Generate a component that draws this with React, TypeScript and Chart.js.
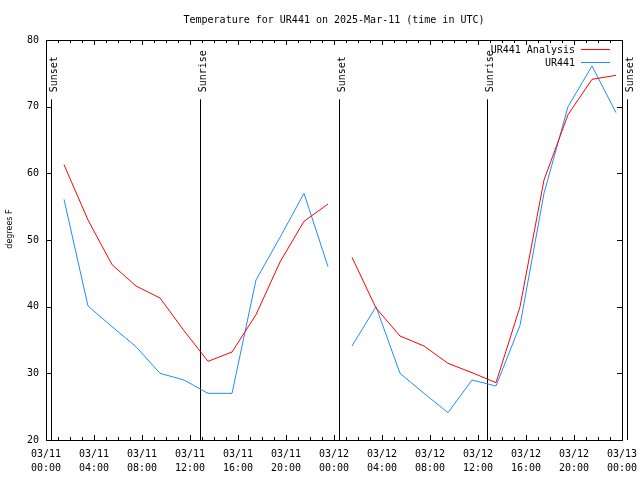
import React, { useEffect, useRef } from "react";
import { Chart, registerables } from "chart.js";
Chart.register(...registerables);

// hours since 03/11 00:00 UTC
const hours = [1.5, 3.5, 5.5, 7.5, 9.5, 11.5, 13.5, 15.5, 17.5, 19.5, 21.5, 23.5, 24.5, 25.5, 27.5, 29.5, 31.5, 33.5, 35.5, 37.5, 39.5, 41.5, 43.5, 45.5, 47.5];
const analysis = [61.3, 53.0, 46.3, 43.1, 41.3, 36.4, 31.8, 33.2, 38.8, 46.7, 52.8, 55.4, null, 47.4, 39.8, 35.6, 34.1, 31.5, 30.1, 28.6, 40.0, 59.0, 68.8, 74.1, 74.7];
const observed = [56.1, 40.1, 37.0, 34.0, 30.0, 29.0, 27.0, 27.0, 44.0, 50.4, 57.0, 46.0, null, 34.1, 40.0, 30.0, 27.0, 24.1, 29.0, 28.1, 37.2, 57.0, 70.0, 76.1, 69.1];

const sunEventHours = [0.44, 12.86, 24.44, 36.78, 48.44];
const sunEventLabels = ["Sunset", "Sunrise", "Sunset", "Sunrise", "Sunset"];

const xTickDates = ["03/11", "03/11", "03/11", "03/11", "03/11", "03/11", "03/12", "03/12", "03/12", "03/12", "03/12", "03/12", "03/13"];
const xTickTimes = ["00:00", "04:00", "08:00", "12:00", "16:00", "20:00", "00:00", "04:00", "08:00", "12:00", "16:00", "20:00", "00:00"];

const seriesNames = ["UR441 Analysis", "UR441"];
const seriesColors = ["#ff0000", "#1e8cff"];
const titleText = "Temperature for UR441 on 2025-Mar-11 (time in UTC)";
const yTitle = "degrees F";

const MONO = "'DejaVu Sans Mono', 'Liberation Mono', monospace";

const decorPlugin = {
  id: "decor",
  beforeDatasetsDraw(chart: any) {
    const ctx = chart.ctx;
    const xs = chart.scales.x;
    const area = chart.chartArea;
    ctx.save();
    ctx.strokeStyle = "#000";
    ctx.lineWidth = 1;
    ctx.fillStyle = "#000";
    ctx.font = "10px " + MONO;
    const lineTop = chart.scales.y.getPixelForValue(71.1);
    sunEventHours.forEach((h, i) => {
      const px = Math.round(xs.getPixelForValue(h)) + 0.5;
      ctx.beginPath();
      ctx.moveTo(px, lineTop);
      ctx.lineTo(px, area.bottom);
      ctx.stroke();
      ctx.save();
      ctx.translate(px + 5, lineTop - 7);
      ctx.rotate(-Math.PI / 2);
      ctx.textAlign = "left";
      ctx.textBaseline = "alphabetic";
      ctx.fillText(sunEventLabels[i], 0, 0);
      ctx.restore();
    });
    ctx.restore();
  },
  afterDraw(chart: any) {
    const ctx = chart.ctx;
    const xs = chart.scales.x;
    const ys = chart.scales.y;
    const a = chart.chartArea;
    ctx.save();
    ctx.strokeStyle = "#000";
    ctx.lineWidth = 1;
    // frame
    ctx.strokeRect(Math.round(a.left) + 0.5, Math.round(a.top) + 0.5, Math.round(a.right - a.left), Math.round(a.bottom - a.top));
    // x ticks
    for (let h = 0; h <= 48; h++) {
      const px = Math.round(xs.getPixelForValue(h)) + 0.5;
      const len = h % 4 === 0 ? 5 : 3;
      ctx.beginPath();
      ctx.moveTo(px, a.bottom);
      ctx.lineTo(px, a.bottom - len);
      ctx.moveTo(px, a.top);
      ctx.lineTo(px, a.top + len);
      ctx.stroke();
    }
    // y ticks
    for (let v = 20; v <= 80; v += 10) {
      const py = Math.round(ys.getPixelForValue(v)) + 0.5;
      ctx.beginPath();
      ctx.moveTo(a.left, py);
      ctx.lineTo(a.left + 5, py);
      ctx.moveTo(a.right, py);
      ctx.lineTo(a.right - 5, py);
      ctx.stroke();
    }
    // title
    ctx.fillStyle = "#000";
    ctx.font = "10px " + MONO;
    ctx.textAlign = "center";
    ctx.textBaseline = "middle";
    ctx.fillText(titleText, (a.left + a.right) / 2, 20);
    // legend
    ctx.textAlign = "right";
    seriesNames.forEach((name, i) => {
      const y = 50 + i * 13;
      ctx.fillStyle = "#000";
      ctx.fillText(name, 575, y + 0.5);
      ctx.strokeStyle = seriesColors[i];
      ctx.beginPath();
      ctx.moveTo(581, y - 0.5);
      ctx.lineTo(610, y - 0.5);
      ctx.stroke();
    });
    // y axis title
    ctx.save();
    ctx.fillStyle = "#000";
    ctx.font = "8px 'DejaVu Sans', sans-serif";
    ctx.translate(10, 229);
    ctx.rotate(-Math.PI / 2);
    ctx.textAlign = "center";
    ctx.textBaseline = "middle";
    ctx.fillText(yTitle, 0, 0);
    ctx.restore();
    ctx.restore();
  },
};

export default function App() {
  const ref = useRef<HTMLCanvasElement>(null);
  useEffect(() => {
    if (!ref.current) return;
    const chart = new Chart(ref.current, {
      type: "line",
      data: {
        labels: hours,
        datasets: [
          {
            label: seriesNames[0],
            data: hours.map((h, i) => ({ x: h, y: analysis[i] })),
            borderColor: seriesColors[0],
            backgroundColor: seriesColors[0],
            borderWidth: 1,
            pointRadius: 0,
            tension: 0,
            spanGaps: false,
          },
          {
            label: seriesNames[1],
            data: hours.map((h, i) => ({ x: h, y: observed[i] })),
            borderColor: seriesColors[1],
            backgroundColor: seriesColors[1],
            borderWidth: 1,
            pointRadius: 0,
            tension: 0,
            spanGaps: false,
          },
        ],
      } as any,
      options: {
        animation: false,
        responsive: false,
        devicePixelRatio: 1,
        layout: { padding: { left: 0, right: 18, top: 40, bottom: 0 } },
        plugins: { legend: { display: false }, title: { display: false }, tooltip: { enabled: false } },
        scales: {
          x: {
            type: "linear",
            min: 0,
            max: 48,
            grid: { display: false, drawTicks: false },
            border: { display: false },
            afterFit: (s: any) => { s.height = 40; s.paddingLeft = 0; s.paddingRight = 0; },
            afterBuildTicks: (s: any) => { s.ticks = xTickTimes.map((_, i) => ({ value: i * 4 })); },
            ticks: {
              autoSkip: false,
              maxRotation: 0,
              minRotation: 0,
              padding: 8,
              color: "#000",
              font: { family: MONO, size: 10, lineHeight: 1.33 },
              callback: (v: any) => {
                const i = Math.round(Number(v) / 4);
                return [xTickDates[i], xTickTimes[i]];
              },
            },
          },
          y: {
            type: "linear",
            min: 20,
            max: 80,
            grid: { display: false, drawTicks: false },
            border: { display: false },
            afterFit: (s: any) => { s.width = 46; s.paddingTop = 0; s.paddingBottom = 0; },
            ticks: {
              stepSize: 10,
              padding: 7,
              color: "#000",
              font: { family: MONO, size: 10 },
            },
          },
        },
      } as any,
      plugins: [decorPlugin],
    });
    return () => chart.destroy();
  }, []);
  return (
    <div style={{ position: "absolute", left: 0, top: 0, width: 640, height: 480, background: "#fff" }}>
      <canvas ref={ref} width={640} height={480} style={{ width: 640, height: 480, display: "block" }} />
    </div>
  );
}
